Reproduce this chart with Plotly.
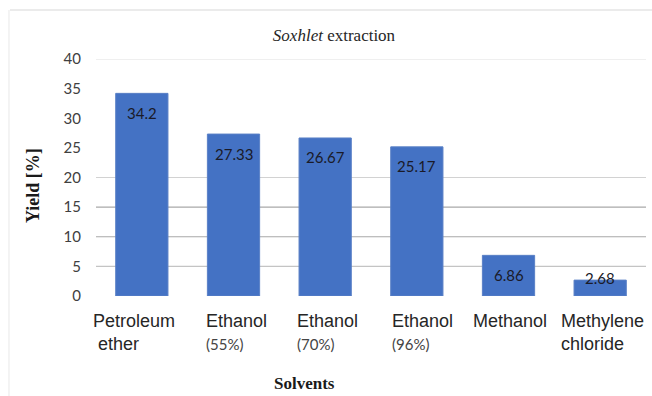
import plotly.graph_objects as go

# Soxhlet extraction yields by solvent
solvents = ["Petroleum ether", "Ethanol (55%)", "Ethanol (70%)", "Ethanol (96%)",
            "Methanol", "Methylene chloride"]
solvent_names = ["Petroleum<br> ether", "Ethanol", "Ethanol", "Ethanol",
                 "Methanol", "Methylene<br>chloride"]
solvent_notes = ["", "(55%)", "(70%)", "(96%)", "", ""]
yields = [34.2, 27.33, 26.67, 25.17, 6.86, 2.68]
value_labels = ["34.2", "27.33", "26.67", "25.17", "6.86", "2.68"]
y_ticks = [0, 5, 10, 15, 20, 25, 30, 35, 40]

# layout geometry (pixels)
W, H = 652, 396
M_L, M_R, M_T, M_B = 96, 6, 59, 100
PLOT_W = W - M_L - M_R
PLOT_H = H - M_T - M_B
Y_MAX = 40
PX_PER_UNIT = PLOT_H / Y_MAX


def px_x(px):
    return (px - M_L) / PLOT_W


def px_y(py):
    return (H - M_B - py) / PLOT_H


fig = go.Figure()
fig.add_trace(go.Bar(
    x=solvents, y=yields,
    marker=dict(color="#4472C4", line=dict(color="#5a80c6", width=1)),
    width=0.57,
    hoverinfo="x+y",
))

annotations = []

# value labels just inside the top of each bar
for cat, v, lab in zip(solvents, yields, value_labels):
    bar_px = v * PX_PER_UNIT
    shift = -min(19.5, bar_px - 18.3)
    annotations.append(dict(
        x=cat, y=v, xref="x", yref="y", text=lab, showarrow=False,
        yanchor="middle", yshift=shift,
        font=dict(family="Lato, Carlito, sans-serif", size=15, color="#1a1a28"),
    ))

# category labels under the axis
label_nudge = [-8, 3, 2, 6, 1, 2]
for cat, name, note, dx in zip(solvents, solvent_names, solvent_notes, label_nudge):
    txt = name
    if note:
        txt += ("<br><span style='font-family:Lato;font-size:15px;color:#444'>"
                + note + "</span>")
    annotations.append(dict(
        x=cat, y=0, xref="x", yref="y", text=txt, showarrow=False,
        yanchor="top", yshift=-13, xshift=dx, align="left",
        font=dict(family="Liberation Sans, Arial, sans-serif", size=18,
                  color="#262626"),
    ))

# axis titles
annotations.append(dict(
    x=px_x(33), y=px_y(186), xref="paper", yref="paper",
    xanchor="center", yanchor="middle",
    text="Yield [%]", textangle=-90, showarrow=False,
    font=dict(family="Liberation Serif, Times New Roman, serif", size=18,
              color="#1a1a1a", weight="bold"),
))
annotations.append(dict(
    x=px_x(304), y=px_y(383), xref="paper", yref="paper",
    xanchor="center", yanchor="middle",
    text="Solvents", showarrow=False,
    font=dict(family="Liberation Serif, Times New Roman, serif", size=17,
              color="#1a1a1a", weight="bold"),
))

# horizontal grid lines
grid_levels = [5, 10, 15, 20, 40]
grid_colors = ["#c4c4c4", "#a9a9a9", "#a9a9a9", "#d2d2d2", "#e0e0e0"]
shapes = []
for lvl, col in zip(grid_levels, grid_colors):
    shapes.append(dict(
        type="line", xref="paper", yref="y", x0=0, x1=1, y0=lvl, y1=lvl,
        line=dict(color=col, width=1.2), layer="below",
    ))

# chart frame
shapes.append(dict(type="line", xref="paper", yref="paper",
                   x0=px_x(10), x1=px_x(652), y0=px_y(10), y1=px_y(10),
                   line=dict(color="#e4e4e4", width=1.5)))
shapes.append(dict(type="line", xref="paper", yref="paper",
                   x0=px_x(9), x1=px_x(9), y0=px_y(10), y1=px_y(396),
                   line=dict(color="#ececec", width=1.2)))

fig.update_layout(
    width=W, height=H,
    margin=dict(l=M_L, r=M_R, t=M_T, b=M_B, pad=0),
    paper_bgcolor="white", plot_bgcolor="white",
    showlegend=False,
    title=dict(
        text="<i>Soxhlet</i> extraction",
        x=px_x(334), xref="paper", xanchor="center",
        y=1 - 35 / H, yref="container", yanchor="middle",
        font=dict(family="Liberation Serif, Times New Roman, serif", size=17,
                  color="#262626"),
    ),
    xaxis=dict(range=[-0.5, len(solvents) - 0.5], showticklabels=False,
               showgrid=False, zeroline=False, showline=False, ticks=""),
    yaxis=dict(range=[0, Y_MAX], tickvals=y_ticks, showgrid=False,
               zeroline=False, showline=False, ticks="",
               ticklabelstandoff=14,
               tickfont=dict(family="Lato, Carlito, sans-serif", size=15,
                             color="#404040")),
    annotations=annotations,
    shapes=shapes,
)

fig.write_html("out.html")
